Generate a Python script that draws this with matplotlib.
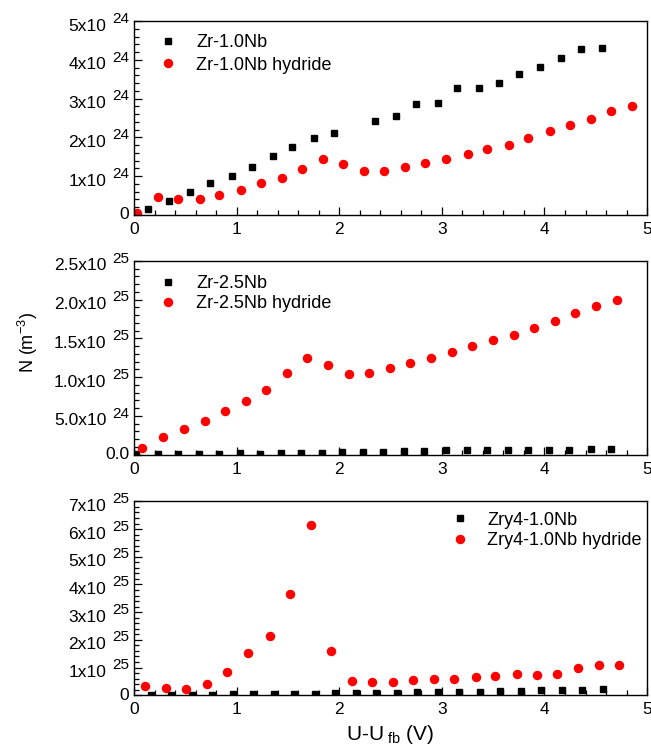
import matplotlib
matplotlib.use("Agg")
import matplotlib.pyplot as plt
from matplotlib.ticker import MultipleLocator, AutoMinorLocator, NullFormatter

plt.rcParams["font.family"] = ["Liberation Sans", "DejaVu Sans"]
plt.rcParams["mathtext.fontset"] = "custom"
plt.rcParams["mathtext.rm"] = "Liberation Sans"
plt.rcParams["mathtext.it"] = "Liberation Sans"

# panel 1: Zr-1.0Nb, N in 1e24 m^-3
x1_base = [0.14, 0.34, 0.54, 0.74, 0.95, 1.15, 1.35, 1.54, 1.75, 1.95, 2.35,
           2.55, 2.75, 2.96, 3.15, 3.36, 3.56, 3.75, 3.96, 4.16, 4.36, 4.56]
y1_base = [0.15, 0.37, 0.60, 0.81, 1.01, 1.24, 1.53, 1.75, 1.99, 2.11, 2.43,
           2.54, 2.87, 2.89, 3.27, 3.27, 3.40, 3.63, 3.81, 4.05, 4.28, 4.30]
x1_hyd = [0.03, 0.23, 0.43, 0.64, 0.83, 1.04, 1.24, 1.44, 1.64, 1.84, 2.04, 2.24, 2.44,
          2.64, 2.84, 3.04, 3.25, 3.44, 3.65, 3.84, 4.05, 4.25, 4.45, 4.65, 4.85]
y1_hyd = [0.06, 0.45, 0.42, 0.41, 0.52, 0.64, 0.81, 0.95, 1.18, 1.44, 1.31, 1.12, 1.14,
          1.24, 1.34, 1.44, 1.56, 1.71, 1.80, 1.98, 2.17, 2.31, 2.47, 2.67, 2.82]

# panel 2: Zr-2.5Nb, N in 1e25 m^-3
x2_base = [0.02, 0.23, 0.43, 0.63, 0.83, 1.03, 1.23, 1.43, 1.63, 1.83, 2.03, 2.23,
           2.43, 2.63, 2.83, 3.04, 3.24, 3.44, 3.64, 3.84, 4.04, 4.24, 4.45, 4.65]
y2_base = [0.010, 0.005, 0.008, 0.008, 0.012, 0.020, 0.012, 0.015, 0.020, 0.025, 0.030, 0.030,
           0.035, 0.045, 0.050, 0.055, 0.055, 0.060, 0.060, 0.065, 0.065, 0.065, 0.070, 0.077]
x2_hyd = [0.08, 0.28, 0.49, 0.69, 0.89, 1.09, 1.29, 1.49, 1.69, 1.89, 2.09, 2.29,
          2.49, 2.69, 2.89, 3.10, 3.29, 3.50, 3.70, 3.90, 4.10, 4.30, 4.50, 4.71]
y2_hyd = [0.09, 0.23, 0.335, 0.44, 0.56, 0.69, 0.835, 1.05, 1.25, 1.16, 1.035, 1.06,
          1.12, 1.18, 1.25, 1.32, 1.40, 1.48, 1.55, 1.63, 1.72, 1.83, 1.92, 2.00]

# panel 3: Zry4-1.0Nb, N in 1e25 m^-3
x3_base = [0.16, 0.36, 0.56, 0.76, 0.96, 1.16, 1.36, 1.56, 1.76, 1.96, 2.16, 2.36,
           2.56, 2.76, 2.96, 3.17, 3.37, 3.57, 3.77, 3.97, 4.17, 4.37, 4.57]
y3_base = [0.0, 0.0, 0.01, 0.024, 0.036, 0.036, 0.036, 0.06, 0.06, 0.072, 0.072, 0.084,
           0.096, 0.108, 0.108, 0.12, 0.132, 0.145, 0.157, 0.17, 0.19, 0.205, 0.217]
x3_hyd = [0.11, 0.31, 0.51, 0.71, 0.91, 1.11, 1.32, 1.52, 1.72, 1.92, 2.12, 2.32,
          2.52, 2.72, 2.92, 3.12, 3.33, 3.52, 3.73, 3.93, 4.12, 4.33, 4.53, 4.73]
y3_hyd = [0.325, 0.265, 0.24, 0.40, 0.855, 1.52, 2.13, 3.67, 6.16, 1.58, 0.53, 0.46,
          0.47, 0.54, 0.58, 0.60, 0.64, 0.70, 0.76, 0.72, 0.77, 0.99, 1.08, 1.09]

# y tick labels (mantissa, exponent) per panel
ticks1 = [("0", ""), ("1x10", "24"), ("2x10", "24"), ("3x10", "24"), ("4x10", "24"), ("5x10", "24")]
ticks2 = [("0.0", ""), ("5.0x10", "24"), ("1.0x10", "25"), ("1.5x10", "25"),
          ("2.0x10", "25"), ("2.5x10", "25")]
ticks3 = [("0", ""), ("1x10", "25"), ("2x10", "25"), ("3x10", "25"), ("4x10", "25"),
          ("5x10", "25"), ("6x10", "25"), ("7x10", "25")]

panels = [
    ("Zr-1.0Nb", x1_base, y1_base, x1_hyd, y1_hyd, 1e24, 1e24, ticks1),
    ("Zr-2.5Nb", x2_base, y2_base, x2_hyd, y2_hyd, 1e25, 0.5e25, ticks2),
    ("Zry4-1.0Nb", x3_base, y3_base, x3_hyd, y3_hyd, 1e25, 1e25, ticks3),
]

fig = plt.figure(figsize=(6.51, 7.54), dpi=100)
bottoms = [0.715, 0.397, 0.078]
axes = []
for i, ((name, xb, yb, xh, yh, scale, ystep, ticks), bot) in enumerate(zip(panels, bottoms)):
    ax = fig.add_axes([0.206, bot, 0.788, 0.257])
    axes.append(ax)
    ax.plot(xb, [v * scale for v in yb], linestyle="none", marker="s", color="black",
            markersize=4.5, label=name)
    ax.plot(xh, [v * scale for v in yh], linestyle="none", marker="o", color="red",
            markersize=5.8, label=name + " hydride")
    ax.set_xlim(0, 5)
    ax.set_ylim(0, (len(ticks) - 1) * ystep)
    ax.xaxis.set_major_locator(MultipleLocator(1))
    ax.xaxis.set_minor_locator(MultipleLocator(0.2))
    ax.yaxis.set_major_locator(MultipleLocator(ystep))
    ax.yaxis.set_minor_locator(AutoMinorLocator(5))
    ax.yaxis.set_major_formatter(NullFormatter())
    ax.tick_params(which="both", direction="in", top=False, right=False, labelsize=12.5,
                   width=0.9)
    ax.tick_params(which="major", length=6, pad=5)
    ax.tick_params(which="minor", length=3.5)
    for sp in ax.spines.values():
        sp.set_linewidth(1.0)

    # y tick labels drawn as mantissa + raised exponent
    trans = ax.get_yaxis_transform()
    for k, (mant, exp) in enumerate(ticks):
        val = k * ystep
        if exp:
            ax.annotate(mant, xy=(0, val), xycoords=trans, xytext=(-20, -3.6),
                        textcoords="offset points", ha="right", va="center",
                        fontsize=12.5, annotation_clip=False)
            ax.annotate(exp, xy=(0, val), xycoords=trans, xytext=(-3.6, 1.7),
                        textcoords="offset points", ha="right", va="center",
                        fontsize=11, annotation_clip=False)
        else:
            ax.annotate(mant, xy=(0, val), xycoords=trans, xytext=(-3.6, 0),
                        textcoords="offset points", ha="right", va="center",
                        fontsize=12.5, annotation_clip=False)

    if i == 0:
        ax.legend(loc="upper left", frameon=False, fontsize=13, handletextpad=0.6,
                  borderaxespad=0, labelspacing=0.3, bbox_to_anchor=(0.016, 0.97))
    elif i == 1:
        ax.legend(loc="upper left", frameon=False, fontsize=13, handletextpad=0.6,
                  borderaxespad=0, labelspacing=0.2, bbox_to_anchor=(0.016, 0.965))
    else:
        ax.legend(loc="upper right", frameon=False, fontsize=13, handletextpad=0.5,
                  borderaxespad=0, labelspacing=0.2, bbox_to_anchor=(1.004, 0.985))

axes[2].set_xlabel("U-U$_{\\ fb}$ (V)", fontsize=15, labelpad=4)
fig.text(28 / 651, 1 - 343 / 754, "N (m$^{-3}$)", rotation=90, fontsize=13,
         ha="center", va="center")

fig.savefig("out.png", dpi=100)
